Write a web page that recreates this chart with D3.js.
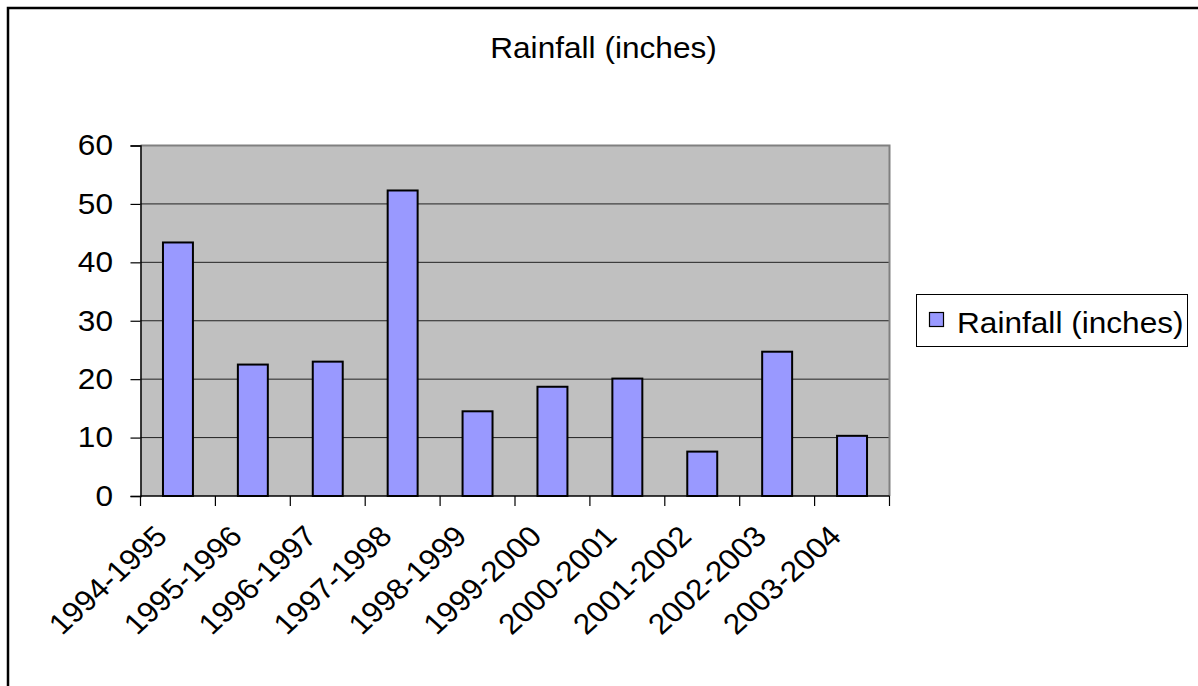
<!DOCTYPE html>
<html>
<head>
<meta charset="utf-8">
<script src="https://cdn.jsdelivr.net/npm/d3@7"></script>
<style>
  html, body { margin: 0; padding: 0; background: #fff; }
  svg { display: block; }
  text { font-family: "Liberation Sans", Arial, sans-serif; fill: #000; }
</style>
</head>
<body>
<svg id="chart" width="1198" height="686"></svg>
<script>
// Seasonal rainfall totals
const seasons = ["1994-1995", "1995-1996", "1996-1997", "1997-1998", "1998-1999",
                 "1999-2000", "2000-2001", "2001-2002", "2002-2003", "2003-2004"];
const rainfall = [43.4, 22.5, 23.0, 52.3, 14.5, 18.7, 20.1, 7.6, 24.7, 10.3];
const yTicks = [0, 10, 20, 30, 40, 50, 60];
const seriesName = "Rainfall (inches)";
const chartTitle = "Rainfall (inches)";

const svg = d3.select("#chart");
const W = 1198, H = 686;
const plot = { left: 140.5, right: 889.5, top: 145.5, bottom: 496 };
const FONT = 29;
const SX = 1.09; // glyphs are drawn slightly wide

// Outer chart frame (runs off the right and bottom edges)
svg.append("rect")
  .attr("x", 8).attr("y", 8)
  .attr("width", W + 10).attr("height", H + 10)
  .attr("fill", "#fff").attr("stroke", "#000").attr("stroke-width", 2.5);

// Title
svg.append("text")
  .attr("transform", `translate(603.5,58) scale(${SX},1)`)
  .attr("text-anchor", "middle")
  .style("font-size", FONT + "px")
  .text(chartTitle);

const x = d3.scaleBand().domain(seasons).range([plot.left, plot.right]).padding(0);
const y = d3.scaleLinear().domain([0, 60]).range([plot.bottom, plot.top]);

// Plot area background
svg.append("rect")
  .attr("x", plot.left).attr("y", plot.top)
  .attr("width", plot.right - plot.left).attr("height", plot.bottom - plot.top)
  .attr("fill", "#C0C0C0");

// Gridlines
svg.append("g").selectAll("line")
  .data(yTicks.filter(d => d > 0 && d < 60))
  .join("line")
  .attr("x1", plot.left).attr("x2", plot.right)
  .attr("y1", d => y(d)).attr("y2", d => y(d))
  .attr("stroke", "#222").attr("stroke-width", 1);

// Top and right plot border
svg.append("path")
  .attr("d", `M${plot.left},${plot.top}H${plot.right}V${plot.bottom}`)
  .attr("fill", "none").attr("stroke", "#808080").attr("stroke-width", 2);

// Bars
const barW = x.bandwidth() * 0.4;
svg.append("g").selectAll("rect")
  .data(seasons.map((s, i) => ({ s, v: rainfall[i] })))
  .join("rect")
  .attr("x", d => x(d.s) + (x.bandwidth() - barW) / 2)
  .attr("y", d => y(d.v))
  .attr("width", barW)
  .attr("height", d => y(0) - y(d.v))
  .attr("fill", "#9999FF")
  .attr("stroke", "#000").attr("stroke-width", 2);

// Y axis
const yAxis = d3.axisLeft(y).tickValues(yTicks).tickSize(10).tickPadding(17);
const gy = svg.append("g").attr("transform", `translate(${plot.left},0)`).call(yAxis);
gy.select(".domain").attr("stroke", "#000").attr("stroke-width", 1.5);
gy.selectAll(".tick line").attr("stroke", "#000").attr("stroke-width", 1.2);
gy.selectAll(".tick text")
  .style("font-size", FONT + "px")
  .attr("font-family", null).attr("fill", "#000")
  .attr("x", 0)
  .attr("transform", `translate(-27.5,0) scale(${SX},1)`);

// X axis: ticks at category boundaries
const edges = seasons.map(s => x(s)).concat([plot.right]);
const gx = svg.append("g");
gx.append("line")
  .attr("x1", plot.left).attr("x2", plot.right)
  .attr("y1", plot.bottom).attr("y2", plot.bottom)
  .attr("stroke", "#000").attr("stroke-width", 1.5);
gx.selectAll("line.tick")
  .data(edges)
  .join("line").attr("class", "tick")
  .attr("x1", d => d).attr("x2", d => d)
  .attr("y1", plot.bottom).attr("y2", plot.bottom + 10)
  .attr("stroke", "#000").attr("stroke-width", 1.2);

// Rotated category labels
gx.selectAll("text")
  .data(seasons)
  .join("text")
  .attr("transform", d => `translate(${x(d) + x.bandwidth() / 2 - 9},${plot.bottom + 42}) scale(${SX},1) rotate(-45)`)
  .attr("text-anchor", "end")
  .style("font-size", FONT + "px")
  .text(d => d);

// Legend
const lg = svg.append("g");
lg.append("rect")
  .attr("x", 916.5).attr("y", 294.5).attr("width", 271).attr("height", 52)
  .attr("fill", "#fff").attr("stroke", "#000").attr("stroke-width", 1);
lg.append("rect")
  .attr("x", 929.5).attr("y", 312.5).attr("width", 14).attr("height", 14)
  .attr("fill", "#9999FF").attr("stroke", "#000").attr("stroke-width", 1.2);
lg.append("text")
  .attr("transform", `translate(957,333) scale(${SX},1)`)
  .style("font-size", FONT + "px")
  .text(seriesName);
</script>
</body>
</html>
